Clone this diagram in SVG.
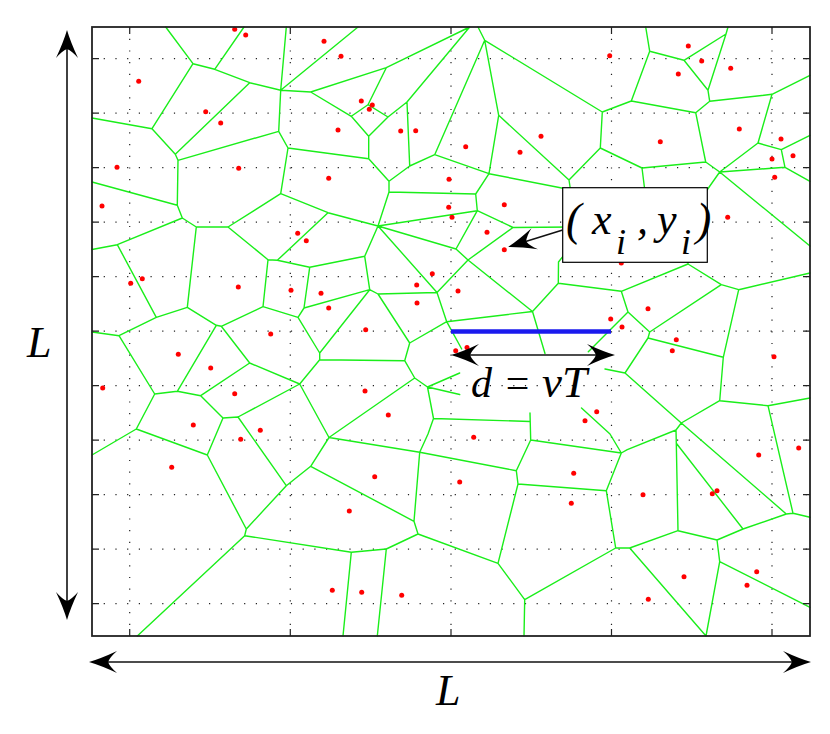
<svg xmlns="http://www.w3.org/2000/svg" width="830" height="734" viewBox="0 0 830 734">
<style>
.grid{stroke:#222;stroke-width:1.2;stroke-dasharray:1.2 10.5;fill:none}
.vor{stroke:#1aee1a;stroke-width:1.4;fill:none;stroke-linejoin:round;stroke-linecap:round}
.pt{fill:#ff0000}
.ax{stroke:#222;stroke-width:1.8;fill:none}
.tk{stroke:#222;stroke-width:1.2;fill:none}
.shaft{stroke:#111;stroke-width:1.6;fill:none}
.lbl{font-family:"Liberation Serif","Times New Roman",serif;font-style:italic;fill:#000}
</style>
<defs>
<path id="ah" d="M0,0 Q-12,-3.5 -28,-11 Q-21,-5 -19,0 Q-21,5 -28,11 Q-12,3.5 0,0 Z" fill="#000"/>
</defs>
<rect width="830" height="734" fill="#fff"/>
<g id="grid">
<path class="grid" d="M92 58.7H810M92 113.2H810M92 167.7H810M92 222.2H810M92 276.7H810M92 331.2H810M92 385.7H810M92 440.2H810M92 494.7H810M92 549.2H810M92 603.7H810"/>
<path class="grid" d="M129.7 27V636M290.3 27V636M451 27V636M611.5 27V636M772 27V636"/>
</g>
<g id="voronoi">
<path class="vor" d="M165.7 27 L193 63.7 L214.7 69.3 L244 27
M214.7 69.3 L249.7 82.7 L280.7 90.3 L286.3 27
M280.7 90.3 L358 27
M280.7 90.3 L310.7 92 L386.3 67.7 L469.7 27 L407 102 L388 117 L368 104.7 L386.3 67.7
M310.7 92 L351.3 116.3 L368 104.7
M351.3 116.3 L368.7 136.3 L388 117
M368.7 136.3 L368.7 158.7 L389 181.3 L409.7 166 L407 102
M409.7 166 L434.7 154.7 L484.7 40.3 L478 27
M484.7 40.3 L498.7 115.3 L489 173.7 L434.7 154.7
M498.7 115.3 L569 180 L572 200
M489 173.7 L475.7 194 L389 192 L389 181.3
M389 192 L378 226 L328 212.7 L280.7 193.7 L288 148 L368.7 158.7
M288 148 L278.7 131.3 L280.7 90.3
M278.7 131.3 L178 160.3 L175.3 154.3 L152 128.7 L193 63.7
M152 128.7 L92 118
M175.3 154.3 L249.7 82.7
M178 160.3 L177.3 205.3 L92 182
M177.3 205.3 L182.3 218 L196.3 227 L228 227 L280.7 193.7
M182.3 218 L117.3 244.7 L92 249.5
M196.3 227 L187.3 307.3
M228 227 L268 259.7 L277.3 260.3 L328 212.7
M489 173.7 L572 190
M475.7 194 L477.3 210.7 L378 226
M477.3 210.7 L513 227.5 L572 227
M477.3 210.7 L456 249 L378 226
M378 226 L364.7 256.3 L309.7 267.3 L277.3 260.3
M378 226 L437 292.5
M456 249 L468 260 L513 227.5
M468 260 L437 292.5 L378 294 L369.7 289.7 L364.7 256.3
M468 260 L532.5 311.5 L558.3 283.3 L558.5 262 L568 250
M558.3 283.3 L621.3 291.3 L688 264 L688 250
M437 292.5 L446.7 321.7 L532.5 311.5 L545 353.5
M446.7 321.7 L461.7 349
M446.7 321.7 L409.7 343 L378 294
M409.7 343 L404.7 360.7 L319.7 359.7 L319.7 353 L369.7 289.7 L304 308 L309.7 267.3
M304 308 L298 317.3 L319.7 353
M298 317.3 L263 306.7 L268 259.7
M263 306.7 L221.3 326.3 L216.3 325.3 L187.3 307.3 L156.3 317.3 L117.3 244.7
M156.3 317.3 L119 335.7 L92 332
M119 335.7 L154.7 394 L177.3 391.3 L216.3 325.3
M221.3 326.3 L249.7 363 L200.7 395.7 L177.3 391.3
M154.7 394 L136.3 429 L92 455
M136.3 429 L207.3 455 L223 418 L200.7 395.7
M223 418 L238 417 L299.7 384 L319.7 359.7
M249.7 363 L299.7 384 L329 437.5
M238 417 L286.3 485.7 L310.7 466.3 L329 437.5 L414.7 378 L404.7 360.7
M414.7 378 L427.5 387 L459.7 373
M427.5 387 L459.7 394.5
M427.5 387 L433.5 418.5 L530 421.5
M433.5 418.5 L428 434 L419.7 452.3 L329 437.5
M530 413 L530.7 440 L516.3 470.7 L419.7 452.3 L414 521.3 L310.7 466.3
M207.3 455 L246.3 529 L244.7 535.7 L137.3 636
M246.3 529 L286.3 485.7
M244.7 535.7 L351.3 552.3 L343 636
M351.3 552.3 L386.3 549 L377.3 636
M386.3 549 L418 534 L414 521.3
M418 534 L498 563.3 L518 484 L516.3 470.7
M518 484 L606.3 490.7 L615.7 548 L524.7 599.7 L498 563.3
M524.7 599.7 L524 636
M530.7 440 L621.3 453 L627.3 449.7 L676 430 L681.3 423
M621.3 453 L606.3 490.7
M581.5 408 L610 434 L621.3 453
M676 430 L676.3 443.3 L678 530.7 L629.7 548 L615.7 548
M629.7 548 L706 636
M676.3 443.3 L743 529 L786.3 514 L681.3 423
M678 530.7 L717 540 L743 529
M717 540 L719.7 561.7 L706 636
M719.7 561.7 L810 607.3
M786.3 514 L793 513.3 L810 517.3
M793 513.3 L768 405.7 L810 398
M768 405.7 L719.7 400.7 L681.3 423 L625 373 L605 369
M719.7 400.7 L723.3 357.3 L648 338 L625 373
M723.3 357.3 L738.7 289.7 L810 273
M738.7 289.7 L721.3 284.7 L688 264
M721.3 284.7 L649.7 332 L648 338
M649.7 332 L628 312 L621.3 291.3
M628 312 L588.3 351.7
M645.7 27 L649.7 51.3 L684 60.3 L726 34 L728 27
M726 34 L708 90.3 L684 60.3
M708 90.3 L709.7 101.3 L772 94.3 L810 75.3
M709.7 101.3 L695.7 112.7 L631.3 101 L649.7 51.3
M631.3 101 L602.3 112 L484.7 40.3
M602.3 112 L600.3 148 L569 180
M600.3 148 L642 168 L705.7 162 L695.7 112.7
M642 168 L646 200
M705.7 162 L719.7 172 L810 246
M719.7 172 L700 200
M772 94.3 L758 143 L781.3 149.7 L810 135.3
M781.3 149.7 L785 167.3 L810 181.3
M785 167.3 L719.7 172
M758 143 L719.7 172"/>
</g>
<g id="points" class="pt">
<circle cx="234.7" cy="29.3" r="2.5"/><circle cx="245.7" cy="35" r="2.5"/><circle cx="324" cy="41.3" r="2.5"/><circle cx="138.7" cy="81.3" r="2.5"/><circle cx="205.7" cy="111.7" r="2.5"/><circle cx="220.7" cy="123" r="2.5"/><circle cx="117" cy="167.3" r="2.5"/><circle cx="238.7" cy="168.3" r="2.5"/><circle cx="328.7" cy="178.3" r="2.5"/><circle cx="102" cy="206" r="2.5"/><circle cx="297.7" cy="233.3" r="2.5"/>
<circle cx="341" cy="56.3" r="2.5"/><circle cx="361.3" cy="101" r="2.5"/><circle cx="372.3" cy="105" r="2.5"/><circle cx="369.3" cy="109.3" r="2.5"/><circle cx="338" cy="130" r="2.5"/><circle cx="400.7" cy="131" r="2.5"/><circle cx="415.7" cy="130.7" r="2.5"/><circle cx="465.7" cy="146.7" r="2.5"/><circle cx="520" cy="152.3" r="2.5"/><circle cx="541" cy="136.3" r="2.5"/><circle cx="449" cy="179.3" r="2.5"/><circle cx="504.3" cy="204.7" r="2.5"/><circle cx="448.7" cy="207.3" r="2.5"/><circle cx="452" cy="217.3" r="2.5"/><circle cx="487" cy="232.3" r="2.5"/>
<circle cx="609.7" cy="55.7" r="2.5"/><circle cx="688.3" cy="46" r="2.5"/><circle cx="701.7" cy="61" r="2.5"/><circle cx="678.3" cy="74" r="2.5"/><circle cx="730.7" cy="68.3" r="2.5"/><circle cx="739.3" cy="129" r="2.5"/><circle cx="660.3" cy="141.7" r="2.5"/><circle cx="781" cy="139" r="2.5"/><circle cx="793" cy="155.7" r="2.5"/><circle cx="772" cy="159" r="2.5"/><circle cx="774.7" cy="177.3" r="2.5"/><circle cx="727.7" cy="217.3" r="2.5"/>
<circle cx="306.3" cy="240.7" r="2.5"/><circle cx="142.3" cy="278.7" r="2.5"/><circle cx="130.7" cy="283.3" r="2.5"/><circle cx="238.3" cy="287" r="2.5"/><circle cx="291" cy="290.3" r="2.5"/><circle cx="321" cy="293.3" r="2.5"/><circle cx="328.7" cy="308" r="2.5"/><circle cx="270.7" cy="334" r="2.5"/><circle cx="178.3" cy="354.3" r="2.5"/><circle cx="210.7" cy="368" r="2.5"/><circle cx="102.7" cy="388" r="2.5"/><circle cx="234.7" cy="393.7" r="2.5"/><circle cx="193.3" cy="425" r="2.5"/><circle cx="260.3" cy="430.3" r="2.5"/><circle cx="240.7" cy="439.3" r="2.5"/>
<circle cx="504.3" cy="249.7" r="2.5"/><circle cx="432.3" cy="273.7" r="2.5"/><circle cx="416.7" cy="285" r="2.5"/><circle cx="458" cy="291" r="2.5"/><circle cx="417" cy="303" r="2.5"/><circle cx="365.7" cy="329.7" r="2.5"/><circle cx="455.7" cy="350.7" r="2.5"/><circle cx="467" cy="347.5" r="2.5"/><circle cx="365" cy="391" r="2.5"/><circle cx="388.3" cy="415" r="2.5"/><circle cx="473.7" cy="437.3" r="2.5"/>
<circle cx="621.3" cy="263" r="2.5"/><circle cx="648" cy="308.7" r="2.5"/><circle cx="610.7" cy="319" r="2.5"/><circle cx="622" cy="327" r="2.5"/><circle cx="676.3" cy="339.7" r="2.5"/><circle cx="672.3" cy="350.7" r="2.5"/><circle cx="774" cy="356.7" r="2.5"/><circle cx="596.7" cy="411.7" r="2.5"/><circle cx="585" cy="420.7" r="2.5"/>
<circle cx="171.7" cy="467.3" r="2.5"/><circle cx="374.7" cy="476.7" r="2.5"/><circle cx="459.7" cy="482" r="2.5"/><circle cx="349.3" cy="511" r="2.5"/><circle cx="332.3" cy="590.3" r="2.5"/><circle cx="361.7" cy="592.3" r="2.5"/><circle cx="401.7" cy="595.3" r="2.5"/><circle cx="573.7" cy="473.3" r="2.5"/><circle cx="571.3" cy="503.3" r="2.5"/>
<circle cx="643" cy="494.7" r="2.5"/><circle cx="712.3" cy="493.7" r="2.5"/><circle cx="717" cy="490.7" r="2.5"/><circle cx="758.7" cy="455" r="2.5"/><circle cx="798.7" cy="448" r="2.5"/><circle cx="684" cy="576.7" r="2.5"/><circle cx="756.7" cy="571.7" r="2.5"/><circle cx="747" cy="585.3" r="2.5"/><circle cx="648.3" cy="599.3" r="2.5"/>
</g>
<g id="axes">
<rect class="ax" x="92" y="27" width="718" height="609"/>
<path class="tk" d="M92 58.7h7M92 113.2h7M92 167.7h7M92 222.2h7M92 276.7h7M92 331.2h7M92 385.7h7M92 440.2h7M92 494.7h7M92 549.2h7M92 603.7h7
M810 58.7h-7M810 113.2h-7M810 167.7h-7M810 222.2h-7M810 276.7h-7M810 331.2h-7M810 385.7h-7M810 440.2h-7M810 494.7h-7M810 549.2h-7M810 603.7h-7
M129.7 27v7M290.3 27v7M451 27v7M611.5 27v7M772 27v7
M129.7 636v-7M290.3 636v-7M451 636v-7M611.5 636v-7M772 636v-7"/>
</g>
<g id="velocity">
<line x1="451" y1="331.5" x2="611" y2="331.5" stroke="#1a1aee" stroke-width="4.5"/>
<line class="shaft" x1="465" y1="355" x2="601" y2="355"/>
<use href="#ah" transform="translate(451,355) rotate(180)"/>
<use href="#ah" transform="translate(615,355)"/>
<text class="lbl" x="471" y="397" font-size="42">d</text>
<text class="lbl" x="503" y="397" font-size="42">=</text>
<text class="lbl" x="542" y="397" font-size="45">vT</text>
</g>
<g id="pointlabel">
<rect x="562.7" y="187.7" width="144.6" height="74.6" fill="#fff" stroke="#000" stroke-width="1.2"/>
<text class="lbl" x="566" y="235" font-size="46">(</text>
<text class="lbl" x="592" y="234" font-size="44">x</text>
<text class="lbl" x="616" y="254" font-size="36">i</text>
<text class="lbl" x="637" y="234" font-size="44">,</text>
<text class="lbl" x="657" y="234" font-size="44">y</text>
<text class="lbl" x="681" y="254" font-size="36">i</text>
<text class="lbl" x="696" y="235" font-size="46">)</text>
<line class="shaft" x1="562.7" y1="230" x2="520" y2="243.3" stroke-width="1.2"/>
<use href="#ah" transform="translate(508,247) rotate(162.8)"/>
</g>
<g id="dimensions">
<line class="shaft" x1="67" y1="45" x2="67" y2="605"/>
<use href="#ah" transform="translate(67,30) rotate(-90)"/>
<use href="#ah" transform="translate(67,620) rotate(90)"/>
<text class="lbl" x="27" y="357" font-size="44">L</text>
<line class="shaft" x1="104" y1="662" x2="796" y2="662"/>
<use href="#ah" transform="translate(89,662) rotate(180)"/>
<use href="#ah" transform="translate(811,662)"/>
<text class="lbl" x="436" y="705" font-size="44">L</text>
</g>
</svg>
